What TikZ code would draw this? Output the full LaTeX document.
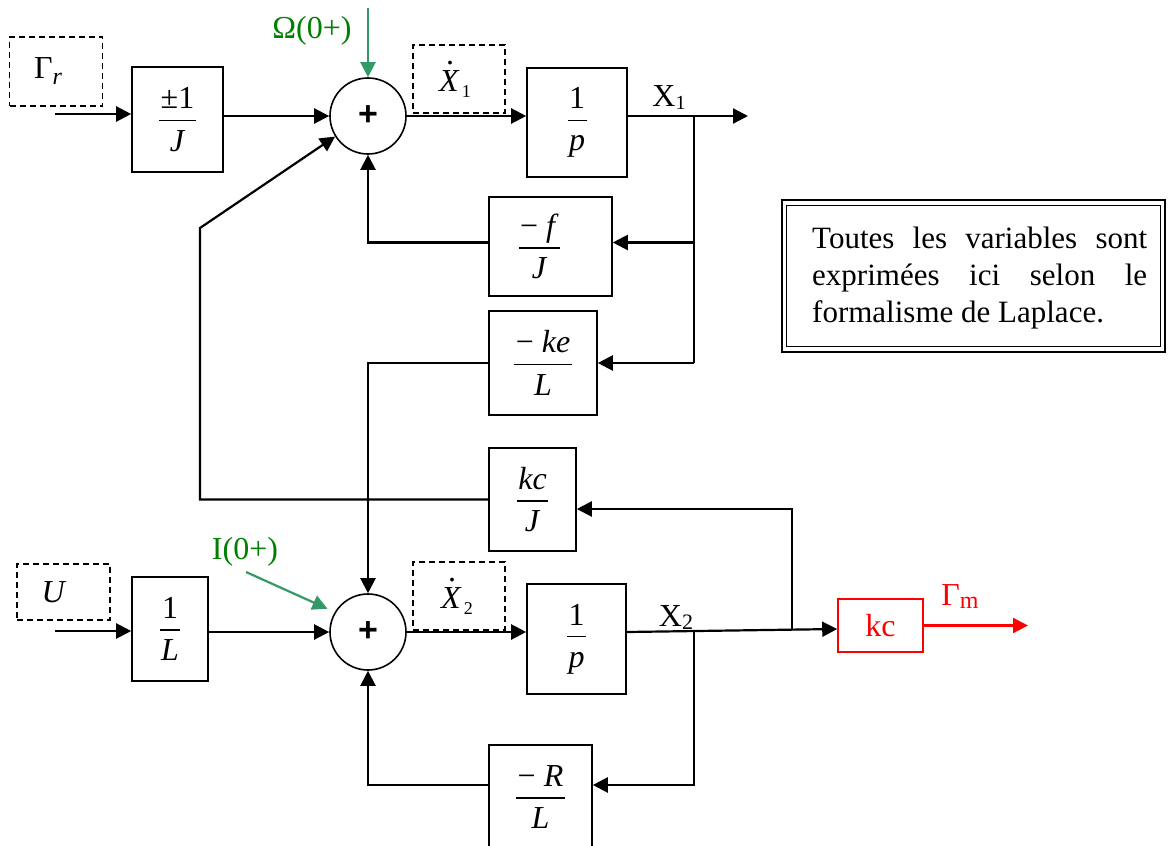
\documentclass[tikz,border=0pt]{standalone}
\usepackage{fontspec}
\setmainfont{Liberation Serif}
\newfontfamily\sumfont{Liberation Sans}
\usetikzlibrary{arrows.meta,calc}

\definecolor{lblgreen}{RGB}{0,128,0}
\definecolor{arrgreen}{RGB}{51,153,102}

% stacked fraction: numerator, bar, denominator
\newdimen\fracwd
\newcommand\fr[2]{%
  \setbox0=\hbox{#1}\setbox2=\hbox{#2}%
  \fracwd=\wd0 \ifdim\wd2>\fracwd \fracwd=\wd2 \fi
  \advance\fracwd by 3pt
  \dp0=0pt \ht2=0pt
  \vbox{\offinterlineskip
    \hbox to\fracwd{\hss\box0\hss}%
    \kern 11pt
    \hrule height 1.3pt
    \kern 30pt
    \hbox to\fracwd{\hss\box2\hss}}}
% X with a dot above (time derivative)
\newcommand\dotX{\rlap{\hspace{7pt}\raisebox{27pt}{.}}\textit{X}}

\tikzset{
  box/.style={draw, line width=1.6pt, inner sep=0pt},
  dbox/.style={draw, dash pattern=on 6pt off 4pt, line width=1.6pt, inner sep=0pt},
  sumnode/.style={circle, draw, line width=1.6pt, minimum size=76pt, inner sep=0pt,
    font=\sumfont\bfseries\fontsize{34}{34}\selectfont},
  wire/.style={line width=2.2pt},
  sig/.style={line width=2.2pt, -{Triangle[length=15pt,width=15pt]}},
}

\begin{document}
\begin{tikzpicture}[x=1pt, y=-1pt, font=\fontsize{32}{38}\selectfont]
\useasboundingbox (0,0) rectangle (1168,846);

% ---------- mechanical loop ----------
\node[dbox, minimum width=93pt, minimum height=69pt] (gr) at (56,71.5)
  {Γ\raisebox{-6pt}{\fontsize{24}{24}\selectfont\itshape r}\kern16pt};
\node[box, minimum width=91pt, minimum height=105pt] (bJ1) at (177.5,119.5)
  {\fr{±1}{\textit{J}}};
\node[sumnode] (s1) at (368,116) {+};
\node[dbox, minimum width=92pt, minimum height=68pt] (x1d) at (459,79)
  {\dotX\hspace{2pt}\raisebox{-6pt}{\fontsize{18}{18}\selectfont 1}\kern8pt};
\node[box, minimum width=100pt, minimum height=109pt] (p1) at (577,122.5)
  {\fr{1}{\textit{p}}};
\node[box, minimum width=123pt, minimum height=99pt] (fJ) at (550.5,246.5)
  {\fr{− \textit{f}}{\textit{J}}\kern22pt};
\node[box, minimum width=108pt, minimum height=104pt] (keL) at (543,363)
  {\fr{− \textit{ke}}{\textit{L}}};
\node[box, minimum width=87pt, minimum height=103pt] (kcJ) at (532.5,499.5)
  {\fr{\textit{kc}}{\textit{J}}};

% ---------- electrical loop ----------
\node[dbox, minimum width=93pt, minimum height=56pt] (ud) at (63.5,592)
  {\textit{U}\kern19pt};
\node[box, minimum width=76pt, minimum height=104pt] (bL) at (170,629)
  {\fr{1}{\textit{L}}};
\node[sumnode] (s2) at (368,632) {+};
\node[dbox, minimum width=92pt, minimum height=68pt] (x2d) at (459,596)
  {\dotX\hspace{2pt}\raisebox{-6pt}{\fontsize{18}{18}\selectfont 2}\kern4pt};
\node[box, minimum width=99pt, minimum height=110pt] (p2) at (576.5,639)
  {\fr{1}{\textit{p}}};
\node[box, minimum width=103pt, minimum height=104pt] (RL) at (540.5,797)
  {\fr{− \textit{R}}{\textit{L}}};
\node[box, draw=red, text=red, minimum width=85pt, minimum height=53pt] (kc) at (880.5,625.5)
  {kc};

% ---------- note ----------
\node[draw, line width=2.5pt, minimum width=383pt, minimum height=152pt, inner sep=0pt] (note) at (973.5,276) {};
\draw[line width=1.2pt] ([shift={(6pt,-7pt)}]note.north west) rectangle ([shift={(-6pt,7pt)}]note.south east);
\node[anchor=north west, align=left, inner sep=0pt, font=\fontsize{31}{37}\selectfont] (notetxt) at (812,227)
  {\makebox[335pt][s]{Toutes les variables sont}\\
   \makebox[335pt][s]{exprimées ici selon le}\\
   formalisme de Laplace.};

% ---------- labels ----------
\node[text=lblgreen] (omlab) at (312,31) {Ω(0+)};
\node[text=lblgreen] (i0lab) at (245,552) {I(0+)};
\node (x1lab) at (669,98) {X\raisebox{-3pt}{\fontsize{20}{20}\selectfont 1}};
\node (x2lab) at (676,618) {X\raisebox{-3pt}{\fontsize{22}{22}\selectfont 2}};
\node[text=red] (gmlab) at (960,597) {Γ\raisebox{-3pt}{\fontsize{24}{24}\selectfont m}};

% ---------- connectors: mechanical loop ----------
\coordinate (grin) at (55,114);
\draw[sig] (grin) -- (grin -| bJ1.west);
\draw[sig] (bJ1.east |- s1) -- (s1.west);
\coordinate (omtop) at (368,8);
\draw[sig, arrgreen] (omtop) -- (s1.north);
\draw[sig] (s1.east) -- (s1.east -| p1.west);
\coordinate (out1) at (748,116);
\coordinate (br1) at (694,116);
\draw[sig] (s1 -| p1.east) -- (out1);
\coordinate (fJe) at ([yshift=4pt]fJ.east);
\coordinate (fJw) at ([yshift=4pt]fJ.west);
\draw[wire] (br1) -- (br1 |- keL.east);
\draw[sig] (br1 |- fJe) -- (fJe);
\draw[sig] (fJw) -- (fJw -| s1) -- (s1.south);
\draw[sig] (br1 |- keL.east) -- (keL.east);
\draw[sig] (keL.west) -- (keL.west -| s2) -- (s2.north);
\coordinate (fbt) at (200,228);
\draw[sig] (kcJ.west) -- (kcJ.west -| fbt) -- (fbt) -- (s1.212);

% ---------- connectors: electrical loop ----------
\coordinate (uin) at (55,631);
\draw[sig] (uin) -- (uin -| bL.west);
\draw[sig] (bL.east |- s2) -- (s2.west);
\coordinate (i0) at (246,572);
\draw[sig, arrgreen, shorten >=8pt] (i0) -- (s2.149);
\draw[sig] (s2.east) -- (s2.east -| p2.west);
\coordinate (x2a) at (s2 -| p2.east);
\coordinate (x2b) at ([yshift=-3.5pt]kc.west);
\draw[sig] (x2a) -- (x2b);
\coordinate (br2) at ($(x2a)!0.318!(x2b)$);
\coordinate (br3) at ($(x2a)!0.787!(x2b)$);
\coordinate (kcJe) at ([yshift=-9.5pt]kcJ.east);
\draw[sig] (br3) -- (br3 |- kcJe) -- (kcJe);
\coordinate (RLe) at ([yshift=12pt]RL.east);
\coordinate (RLw) at ([yshift=12pt]RL.west);
\draw[sig] (br2) -- (br2 |- RLe) -- (RLe);
\draw[sig] (RLw) -- (RLw -| s2) -- (s2.south);
\coordinate (gm) at (1028,625.5);
\draw[sig, red] (kc.east) -- (gm);
\end{tikzpicture}
\end{document}
